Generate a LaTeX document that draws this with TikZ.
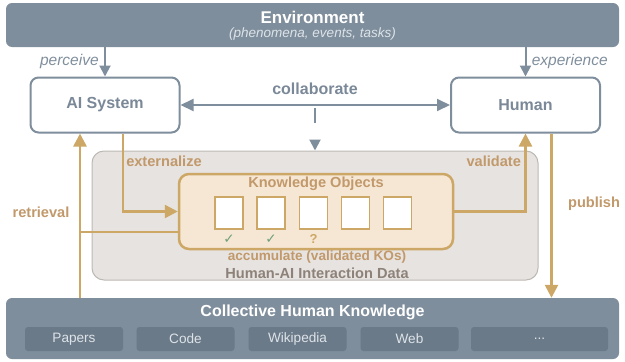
\documentclass[tikz,border=0pt]{standalone}
\usepackage{fontspec}
\setmainfont{Liberation Sans}
\newfontfamily\symfont{DejaVu Sans}
\usetikzlibrary{arrows.meta,positioning,calc}
\definecolor{slate}{HTML}{7F8E9C}
\definecolor{slatedark}{HTML}{6B7A88}
\definecolor{slatetext}{HTML}{7A8898}
\definecolor{palesub}{HTML}{DDE3E9}
\definecolor{tanline}{HTML}{CDA765}
\definecolor{tantext}{HTML}{C1996B}
\definecolor{kofill}{HTML}{F6E7D5}
\definecolor{ixfill}{HTML}{E7E3E0}
\definecolor{ixdraw}{HTML}{BCB8B4}
\definecolor{ixtext}{HTML}{8D8279}
\definecolor{okgreen}{HTML}{6F9F7A}
\newcommand\moredots{...}

\begin{document}
\begin{tikzpicture}[x=1pt,y=-1pt,
  band/.style={fill=slate, rounded corners=6pt, minimum width=613pt, inner sep=0pt},
  agent/.style={draw=slate, line width=2pt, fill=white, rounded corners=8pt, minimum width=149pt, minimum height=55pt, text=slatetext, font=\fontsize{16}{18}\selectfont\bfseries},
  srcbox/.style={fill=slatedark, rounded corners=3pt, minimum height=24pt, inner sep=0pt, text=palesub, font=\fontsize{13.6}{16}\selectfont},
  kosq/.style={draw=tanline, line width=1.5pt, fill=white, minimum width=28pt, minimum height=32pt, inner sep=0pt},
  okmark/.style={text=okgreen, font=\symfont\fontsize{13.5}{15}\selectfont},
  gtip/.style={-{Triangle[length=11pt,width=11pt]}},
  slatearr/.style={draw=slate, line width=2pt, gtip},
  tanarr/.style={draw=tanline, line width=2.5pt, -{Triangle[length=13pt,width=13pt]}},
  tanlbl/.style={text=tantext, font=\fontsize{14.6}{17}\selectfont\bfseries},
  envlbl/.style={text=slate, font=\fontsize{15.5}{18}\selectfont\itshape}
]
\useasboundingbox (0,0) rectangle (625,362);

\node[band, minimum height=44pt] (env) at (312.5,25) {};
\node[text=white, font=\fontsize{17}{20}\selectfont\bfseries] (envtitle) at (312.5,17) {Environment};
\node[text=palesub, font=\fontsize{13.5}{16}\selectfont\itshape] (envsub) at (312.5,34) {(phenomena, events, tasks)};

\node[agent] (ai) at (105,105) {AI System};
\node[agent] (human) at (525.5,105) {Human};

\node[draw=ixdraw, line width=1pt, fill=ixfill, rounded corners=12pt, minimum width=446pt, minimum height=129pt] (ixd) at (315,215.5) {};
\node[draw=tanline, line width=2.5pt, fill=kofill, rounded corners=10pt, minimum width=274pt, minimum height=75pt] (ko) at (316,211.5) {};
\node[tanlbl] (kotitle) at (316,184) {Knowledge Objects};
\foreach \i/\x in {1/229,2/271,3/313.5,4/355.5,5/397.5}
  \node[kosq] (sq\i) at (\x,213) {};
\node[okmark] (ok1) at ([yshift=-9pt]sq1.south) {✓};
\node[okmark] (ok2) at ([yshift=-9pt]sq2.south) {✓};
\node[text=tanline, font=\fontsize{13}{15}\selectfont\bfseries] (unsure) at ([yshift=-9pt]sq3.south) {?};
\node[tanlbl, font=\fontsize{13.6}{16}\selectfont\bfseries] (accum) at (317,257) {accumulate (validated KOs)};
\node[text=ixtext, font=\fontsize{14.6}{17}\selectfont\bfseries] (ixtitle) at (317,273) {Human-AI Interaction Data};

\node[band, minimum height=61pt] (chk) at (312.5,328.5) {};
\node[text=white, font=\fontsize{16}{19}\selectfont\bfseries] (chktitle) at (312.5,312) {Collective Human Knowledge};
\foreach \n/\x/\w/\t in {papers/74/98/Papers,code/185.5/98/Code,wiki/297.5/98/Wikipedia,web/409.5/98/Web,more/539.5/137/\moredots}
  \node[srcbox, minimum width=\w pt] (\n) at (\x,339) {\t};

\draw[slatearr] (ai.north |- env.south) -- node[envlbl, left, xshift=-2pt] {perceive} (ai.north);
\draw[slatearr] (human.north |- env.south) -- node[envlbl, right, xshift=2pt] {experience} (human.north);
\draw[slatearr, {Triangle[length=13pt,width=12pt]}-{Triangle[length=13pt,width=12pt]}] (ai) -- (human);
\node[text=slatetext, font=\fontsize{16}{18}\selectfont\bfseries] (collab) at (315,89) {collaborate};
\coordinate (collabtap) at (315,108);
\draw[slatearr, dash pattern=on 15pt off 30pt] (collabtap) -- (ixd.north);

\coordinate (rettop) at ([xshift=-25pt]ai.south);
\coordinate (pubtop) at ([xshift=26pt]human.south);
\coordinate (kofeed) at ([yshift=-20.5pt]ko.west);
\draw[tanarr] ([xshift=18pt]ai.south) |- node[tanlbl, pos=0.18, right, inner sep=2pt] {externalize} (ko.west);
\draw[tanarr] (ko.east) -| node[tanlbl, pos=0.82, left] {validate} (human.south);
\draw[tanarr] (pubtop) -- node[tanlbl, pos=0.43, right, xshift=12pt] {publish} (pubtop |- chk.north);
\draw[tanarr] (rettop |- chk.north) -- node[tanlbl, pos=0.52, left, xshift=-6pt] {retrieval} (rettop);
\draw[draw=tanline, line width=2.5pt] (kofeed) -- (kofeed -| rettop);
\end{tikzpicture}
\end{document}
